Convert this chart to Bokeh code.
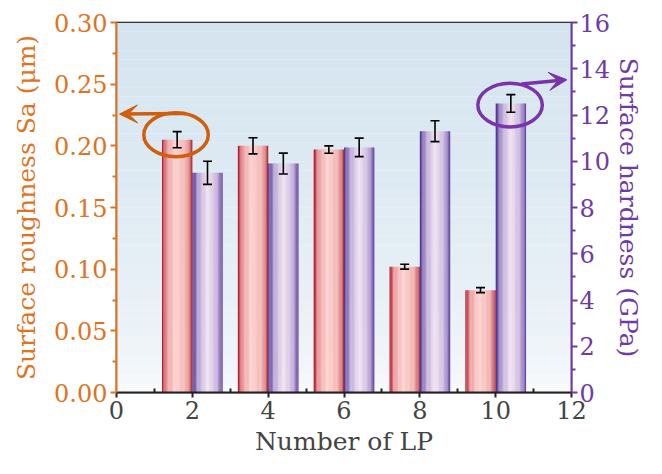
import numpy as np
from bokeh.plotting import figure
from bokeh.models import (Range1d, LinearAxis, FixedTicker, NumeralTickFormatter,
                          Whisker, TeeHead, ColumnDataSource, Arrow, VeeHead)
from bokeh.embed import file_html
from bokeh.resources import INLINE

# ---------------- data ----------------
lp = [2, 4, 6, 8, 10]
roughness = [0.205, 0.200, 0.197, 0.102, 0.083]          # Sa (um)
roughness_err = [0.0065, 0.0065, 0.003, 0.002, 0.002]
hardness = [9.5, 9.9, 10.6, 11.3, 12.5]                  # GPa
hardness_err = [0.5, 0.45, 0.4, 0.45, 0.38]
x_ticks = [0, 2, 4, 6, 8, 10, 12]
left_ticks = [0.00, 0.05, 0.10, 0.15, 0.20, 0.25, 0.30]
right_ticks = [0, 2, 4, 6, 8, 10, 12, 14, 16]

# ---------------- style ----------------
FONT = "DejaVu Serif"
ORANGE = "#e0731e"
ORANGE_DARK = "#cf5f0c"
PURPLE = "#6f3aa6"
PURPLE_DARK = "#7a33a8"
BAR_W = 0.8
N_STRIP = 24
red_stops = [(0.0, "#a8102a"), (0.06, "#c8404c"), (0.16, "#ec9a9a"),
             (0.45, "#ffd2ce"), (0.8, "#f2b0ae"), (0.93, "#d46a6c"), (1.0, "#a01826")]
pur_stops = [(0.0, "#4a2a88"), (0.07, "#6e52a6"), (0.2, "#b8a2d4"),
             (0.5, "#f3e4f2"), (0.8, "#c8b4dc"), (0.93, "#8a6cb8"), (1.0, "#5c3c98")]
bg_bottom = "#f8fafc"
bg_top = "#d4e4ef"


def hex2rgb(h):
    h = h.lstrip("#")
    return np.array([int(h[i:i + 2], 16) for i in (0, 2, 4)], dtype=float)


def rgb2hex(c):
    c = np.clip(np.round(c), 0, 255).astype(int)
    return "#%02x%02x%02x" % tuple(c)


def interp(stops, t):
    for (t0, c0), (t1, c1) in zip(stops[:-1], stops[1:]):
        if t0 <= t <= t1:
            f = (t - t0) / (t1 - t0)
            return rgb2hex(hex2rgb(c0) * (1 - f) + hex2rgb(c1) * f)
    return stops[-1][1]


p = figure(width=646, height=458, output_backend="svg", toolbar_location=None,
           x_range=Range1d(0, 12), y_range=Range1d(0, 0.30),
           min_border_left=116, min_border_right=71, min_border_top=22,
           min_border_bottom=64)
p.extra_y_ranges = {"right": Range1d(0, 16)}
p.grid.visible = False
p.outline_line_color = "black"
p.outline_line_width = 1.5
p.background_fill_color = bg_bottom
p.border_fill_color = "white"

# background gradient (horizontal bands)
nb = 40
y0 = p.y_range.start
y1 = p.y_range.end
edges = np.linspace(y0, y1, nb + 1)
bcols = [rgb2hex(hex2rgb(bg_bottom) * (1 - f) + hex2rgb(bg_top) * f)
         for f in (np.linspace(0, 1, nb) ** 0.6)]
p.quad(left=p.x_range.start, right=p.x_range.end, bottom=edges[:-1], top=edges[1:],
       fill_color=bcols, line_color=None)


def strips(centers, values, stops):
    L, R, T, C = [], [], [], []
    for c, v in zip(centers, values):
        for k in range(N_STRIP):
            l = c - BAR_W / 2 + k * BAR_W / N_STRIP
            L.append(l)
            R.append(l + BAR_W / N_STRIP + 0.002)
            T.append(v)
            C.append(interp(stops, (k + 0.5) / N_STRIP))
    return dict(left=L, right=R, top=T, bottom=[0] * len(L), color=C)


red_x = [x - BAR_W / 2 for x in lp]
pur_x = [x + BAR_W / 2 for x in lp]

p.quad(source=ColumnDataSource(strips(red_x, roughness, red_stops)),
       left="left", right="right", top="top", bottom="bottom",
       fill_color="color", line_color=None)
p.quad(source=ColumnDataSource(strips(pur_x, hardness, pur_stops)),
       left="left", right="right", top="top", bottom="bottom",
       fill_color="color", line_color=None, y_range_name="right")

# error bars
src_r = ColumnDataSource(dict(base=red_x,
                              upper=[v + e for v, e in zip(roughness, roughness_err)],
                              lower=[v - e for v, e in zip(roughness, roughness_err)]))
src_h = ColumnDataSource(dict(base=pur_x,
                              upper=[v + e for v, e in zip(hardness, hardness_err)],
                              lower=[v - e for v, e in zip(hardness, hardness_err)]))
for src, rn in ((src_r, "default"), (src_h, "right")):
    w = Whisker(source=src, base="base", upper="upper", lower="lower",
                line_color="black", line_width=1.6, level="overlay",
                upper_head=TeeHead(size=9, line_color="black", line_width=1.6),
                lower_head=TeeHead(size=9, line_color="black", line_width=1.6))
    if rn == "right":
        w.y_range_name = "right"
    p.add_layout(w)

# annotation ellipses + arrows
oe_x, oe_y = red_x[0] - 0.03, roughness[0] + 0.004
oe_w, oe_h = 1.7, 0.0355
p.ellipse(x=[oe_x], y=[oe_y], width=oe_w, height=oe_h, fill_alpha=0,
          line_color=ORANGE_DARK, line_width=3.5)
p.add_layout(Arrow(x_start=oe_x + 0.25, y_start=oe_y + oe_h / 2 - 0.0005,
                   x_end=p.x_range.start + 0.08, y_end=oe_y + oe_h / 2 - 0.001,
                   line_color=ORANGE_DARK, line_width=3.5,
                   end=VeeHead(size=18, fill_color=ORANGE_DARK, line_color=ORANGE_DARK)))

pe_x, pe_y = pur_x[-1] - 0.02, hardness[-1] - 0.07
pe_w, pe_h = 1.7, 1.89
p.ellipse(x=[pe_x], y=[pe_y], width=pe_w, height=pe_h, fill_alpha=0,
          line_color=PURPLE_DARK, line_width=3.5, y_range_name="right")
p.add_layout(Arrow(x_start=pe_x + 0.3, y_start=pe_y + pe_h / 2 - 0.03,
                   x_end=p.x_range.end - 0.12, y_end=pe_y + pe_h / 2 + 0.15,
                   line_color=PURPLE_DARK, line_width=3.5, y_range_name="right",
                   end=VeeHead(size=18, fill_color=PURPLE_DARK, line_color=PURPLE_DARK)))

# axes
xa = p.xaxis[0]
xa.ticker = FixedTicker(ticks=x_ticks, minor_ticks=list(range(1, 12, 2)))
xa.axis_label = "Number of LP"
xa.axis_line_color = "#222222"
xa.axis_line_width = 2
xa.major_tick_line_color = "#222222"
xa.major_tick_line_width = 2
xa.major_tick_out = 5
xa.major_tick_in = 0
xa.minor_tick_line_color = "#222222"
xa.minor_tick_line_width = 2
xa.minor_tick_in = 4
xa.minor_tick_out = 0
xa.major_label_standoff = 3
xa.axis_label_standoff = 5

ya = p.yaxis[0]
ya.ticker = FixedTicker(ticks=left_ticks,
                        minor_ticks=[0.025, 0.075, 0.125, 0.175, 0.225, 0.275])
ya.formatter = NumeralTickFormatter(format="0.00")
ya.axis_label = "Surface roughness Sa (μm)"
ya.axis_line_color = ORANGE
ya.major_tick_line_color = ORANGE
ya.minor_tick_line_color = ORANGE
ya.major_label_text_color = ORANGE
ya.axis_label_text_color = ORANGE

ra = LinearAxis(y_range_name="right")
ra.ticker = FixedTicker(ticks=right_ticks, minor_ticks=list(range(1, 16, 2)))
ra.axis_label = "Surface hardness (GPa)"
ra.axis_line_color = PURPLE
ra.major_tick_line_color = PURPLE
ra.minor_tick_line_color = PURPLE
ra.major_label_text_color = PURPLE
ra.axis_label_text_color = PURPLE
p.add_layout(ra, "right")

for a in (ya, ra):
    a.axis_line_width = 2
    a.major_tick_line_width = 2
    a.minor_tick_line_width = 2
    a.major_tick_out = 6
    a.major_tick_in = 0
    a.minor_tick_out = 4
    a.minor_tick_in = 0
ya.major_label_standoff = 3
ra.major_label_standoff = 2
ya.axis_label_standoff = 10
ra.axis_label_standoff = 1

for a in (xa, ya, ra):
    a.major_label_text_font = FONT
    a.axis_label_text_font = FONT
    a.major_label_text_font_size = "24px"
    a.axis_label_text_font_size = "25px"
    a.axis_label_text_font_style = "normal"

open("out.html", "w").write(file_html(p, INLINE))
